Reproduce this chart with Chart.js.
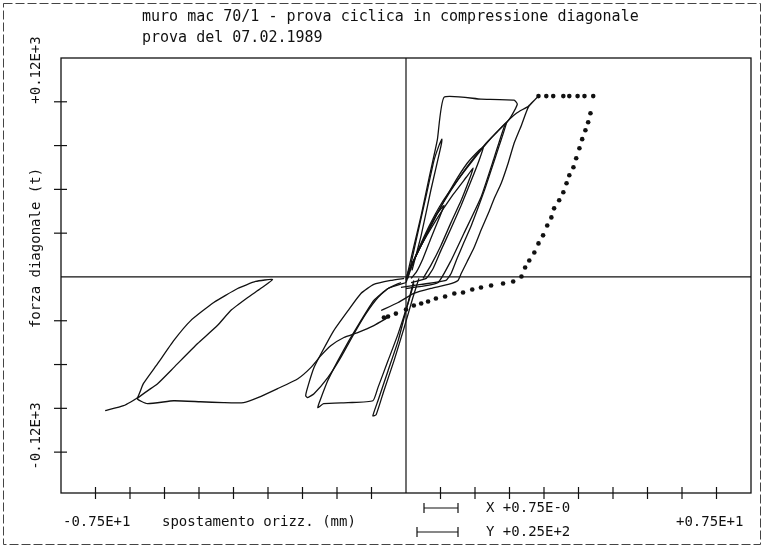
<!DOCTYPE html>
<html>
<head>
<meta charset="utf-8">
<script src="https://cdn.jsdelivr.net/npm/chart.js@4.4.1/dist/chart.umd.min.js"></script>
<style>
  html, body { margin: 0; padding: 0; background: #fff; }
  #wrap { width: 764px; height: 548px; }
</style>
</head>
<body>
<div id="wrap"><canvas id="chart" width="764" height="548"></canvas></div>
<script>
// Texts
const titleLines = ['muro mac 70/1 - prova ciclica in compressione diagonale', 'prova del 07.02.1989'];
const yAxisTitle = 'forza diagonale (t)';
const xAxisTitle = 'spostamento orizz. (mm)';
const yEndLabels = ['+0.12E+3', '-0.12E+3'];
const xEndLabels = ['-0.75E+1', '+0.75E+1'];
const scaleNotes = ['X +0.75E-0', 'Y +0.25E+2'];

// Tick positions (axis units)
const xTickValues = [-6.75, -6, -5.25, -4.5, -3.75, -3, -2.25, -1.5, -0.75, 0.75, 1.5, 2.25, 3, 3.75, 4.5, 5.25, 6, 6.75];
const yTickValues = [-120, -90, -60, -30, 30, 60, 90, 120];

// Big loop on the negative side with the long path at about -85 t
const leftLoopX = [-0.39, -0.70, -1.05, -1.35, -1.63, -1.85, -2.07, -2.35, -2.79, -3.22, -3.53, -3.97, -4.47, -5.05, -5.62, -5.84,
  -5.40, -5.05, -4.53, -4.10, -3.81, -3.44, -3.16, -2.90,
  -3.27, -3.66, -4.18, -4.68, -5.05, -5.40, -5.71, -5.84, -6.14, -6.54];
const leftLoopY = [-27.8, -33.3, -38.1, -41.5, -47.0, -53.9, -62.1, -69.7, -76.5, -82.7, -86.1, -86.1, -85.5, -84.8, -86.8, -83.4,
  -73.1, -62.1, -45.6, -33.3, -23.0, -14.1, -7.9, -1.7,
  -3.1, -7.9, -17.5, -29.9, -43.6, -59.4, -73.1, -82.7, -88.2, -91.6];

// Small negative loops near the origin
const negLoop1X = [-0.04, -0.33, -0.70, -0.98, -1.26, -1.57, -1.81, -2.00, -2.14, -2.18, -2.14, -2.00, -1.70, -1.42, -1.13, -0.87, -0.61, -0.39, -0.11];
const negLoop1Y = [-1.0, -2.4, -5.1, -11.3, -23.0, -36.7, -50.4, -62.1, -75.8, -81.3, -82.7, -80.0, -69.0, -55.3, -38.8, -25.1, -14.1, -7.9, -3.8];
const negLoop2X = [0, -0.39, -0.70, -0.98, -1.24, -1.48, -1.70, -1.87, -1.92, -1.79, -1.26, -0.72, -0.61, -0.39, -0.17, 0.04, 0.17];
const negLoop2Y = [-3.8, -7.9, -16.1, -29.9, -43.6, -57.3, -71.0, -84.8, -89.6, -86.8, -86.1, -84.8, -75.8, -57.3, -38.8, -18.2, -2.4];
const negLoop3X = [0.17, 0, -0.17, -0.39, -0.61, -0.72, -0.65, -0.48, -0.26, -0.04, 0.15, 0.28];
const negLoop3Y = [-4.5, -23.0, -43.6, -64.2, -84.8, -95.1, -94.4, -77.9, -57.3, -34.7, -14.1, -1.0];

// Positive loops
const rectLoopX = [0, 0.15, 0.33, 0.50, 0.68, 0.83, 1.63, 2.35, 2.42, 2.29, 2.14, 1.92, 1.63, 1.26, 0.98, 0.70, 0.33, 0];
const rectLoopY = [-2.4, 18.2, 42.2, 67.6, 93.7, 123.2, 121.8, 121.1, 118.4, 110.2, 103.3, 82.0, 54.6, 29.9, 11.3, -3.8, -6.5, -7.9];
const spikeLoopX = [0.04, 0.22, 0.44, 0.61, 0.72, 0.78, 0.76, 0.54, 0.33, 0.13];
const spikeLoopY = [-1.0, 25.1, 55.9, 80.0, 90.3, 94.4, 89.6, 59.4, 28.5, 4.5];
const peakLoopX = [0, 0.11, 0.28, 0.50, 0.76, 1.09, 1.42, 1.79, 2.14, 2.40, 2.66, 2.79, 2.88,
  2.66, 2.51, 2.35, 2.22, 2.07, 1.92, 1.79, 1.63, 1.48, 1.33, 1.20, 1.13, 0.92, 0.54, 0.17, -0.17, -0.54];
const peakLoopY = [-3.8, 5.8, 19.6, 34.7, 49.8, 64.9, 78.6, 93.0, 104.7, 112.2, 117.0, 121.1, 123.9,
  116.3, 104.0, 91.6, 77.9, 64.2, 53.9, 43.6, 32.0, 20.2, 10.6, 2.4, -2.4, -5.1, -7.9, -11.3, -17.5, -23.0];
const loop2X = [0, 0.15, 0.37, 0.65, 0.98, 1.35, 1.74, 2.00, 2.18, 2.03, 1.85, 1.72, 1.57, 1.42, 1.26, 1.11, 0.98, 0.87, 0.33, -0.11];
const loop2Y = [-1.0, 9.9, 25.1, 42.2, 59.4, 76.5, 91.6, 99.9, 105.4, 90.3, 73.1, 60.7, 47.7, 35.3, 23.7, 12.7, 2.4, -2.4, -5.1, -7.2];
const loop3X = [0.04, 0.22, 0.44, 0.72, 1.02, 1.33, 1.59, 1.68, 1.59, 1.42, 1.20, 0.98, 0.76, 0.59, 0.44, 0.11];
const loop3Y = [3.1, 14.8, 28.5, 45.7, 62.8, 77.9, 86.8, 88.9, 80.0, 66.2, 49.1, 33.3, 18.2, 5.8, -1.0, -3.8];
const loop4X = [0.07, 0.33, 0.65, 0.98, 1.31, 1.46, 1.37, 1.20, 0.98, 0.76, 0.54, 0.37];
const loop4Y = [4.5, 21.6, 38.8, 54.6, 68.3, 74.5, 66.2, 52.5, 37.4, 21.6, 7.9, -1.0];
const loop5X = [0.02, 0.22, 0.44, 0.65, 0.83, 0.72, 0.54, 0.37, 0.22, 0.11];
const loop5Y = [1.0, 14.8, 28.5, 42.2, 49.1, 40.2, 26.4, 12.7, 3.1, -1.0];

// Dotted final cycle
const dotX = [-0.48, -0.39, -0.22, 0, 0.17, 0.33, 0.48, 0.65, 0.85, 1.05, 1.24, 1.44, 1.63, 1.85, 2.11, 2.33, 2.51,
  2.59, 2.68, 2.79, 2.88, 2.98, 3.07, 3.16, 3.22, 3.33, 3.42, 3.49, 3.55, 3.64, 3.70, 3.77, 3.83, 3.90, 3.96, 4.01,
  4.07, 3.88, 3.73, 3.55, 3.42, 3.20, 3.05, 2.88];
const dotY = [-27.8, -27.1, -25.1, -22.3, -19.6, -18.2, -16.8, -14.8, -13.4, -11.3, -10.6, -8.6, -7.2, -5.8, -4.5, -3.1, 0.3,
  6.5, 11.3, 16.8, 23.0, 28.5, 35.3, 40.8, 47.0, 52.5, 58.0, 64.2, 69.7, 75.2, 81.3, 88.2, 94.4, 100.5, 106.0, 112.2,
  123.9, 123.9, 123.9, 123.9, 123.9, 123.9, 123.9, 123.9];

function pts(xs, ys) {
    return xs.map((x, i) => ({ x: x, y: ys[i] }));
}

function curve(xs, ys) {
    return {
        data: pts(xs, ys),
        showLine: true,
        borderColor: '#111',
        borderWidth: 1.3,
        pointRadius: 0,
        tension: 0.15,
        fill: false
    };
}

const MONO = '"DejaVu Sans Mono", "Liberation Mono", monospace';

// Frame, zero lines, ticks and all the plotter texts
const plotterFrame = {
    id: 'plotterFrame',
    beforeDatasetsDraw(chart) {
        const { ctx, chartArea: a, scales: { x, y } } = chart;
        const line = (x1, y1, x2, y2) => { ctx.beginPath(); ctx.moveTo(x1, y1); ctx.lineTo(x2, y2); ctx.stroke(); };
        ctx.save();
        // outer sheet border
        ctx.strokeStyle = '#444';
        ctx.lineWidth = 1;
        ctx.setLineDash([9, 3]);
        ctx.strokeRect(3.5, 3.5, 757, 541);
        ctx.setLineDash([]);
        // plot frame
        ctx.strokeStyle = '#111';
        ctx.lineWidth = 1.3;
        ctx.strokeRect(a.left, a.top, a.right - a.left, a.bottom - a.top);
        // zero lines
        const x0 = x.getPixelForValue(0), y0 = y.getPixelForValue(0);
        ctx.lineWidth = 1.2;
        line(x0, a.top, x0, a.bottom);
        line(a.left, y0, a.right, y0);
        // ticks
        yTickValues.forEach(v => {
            const py = y.getPixelForValue(v);
            line(a.left - 7, py, a.left + 6, py);
        });
        xTickValues.forEach(v => {
            const px = x.getPixelForValue(v);
            line(px, a.bottom - 6, px, a.bottom + 6);
        });
        ctx.restore();
    },
    afterDraw(chart) {
        const { ctx, chartArea: a } = chart;
        ctx.save();
        ctx.fillStyle = '#111';
        ctx.textBaseline = 'middle';
        // title
        ctx.font = '15px ' + MONO;
        ctx.textAlign = 'left';
        ctx.fillText(titleLines[0], 142, 17);
        ctx.fillText(titleLines[1], 142, 38);
        // rotated y texts
        ctx.font = '14px ' + MONO;
        ctx.textAlign = 'center';
        [[yEndLabels[0], 70], [yAxisTitle, 248], [yEndLabels[1], 436]].forEach(([t, cy]) => {
            ctx.save();
            ctx.translate(36, cy);
            ctx.rotate(-Math.PI / 2);
            ctx.fillText(t, 0, 0);
            ctx.restore();
        });
        // bottom texts
        ctx.textAlign = 'left';
        ctx.fillText(xEndLabels[0], 63, 522);
        ctx.fillText(xAxisTitle, 162, 522);
        ctx.fillText(xEndLabels[1], 676, 522);
        ctx.fillText(scaleNotes[0], 486, 508);
        ctx.fillText(scaleNotes[1], 486, 532);
        // scale bars
        ctx.strokeStyle = '#111';
        ctx.lineWidth = 1.2;
        const bar = (x1, x2, cy) => {
            ctx.beginPath();
            ctx.moveTo(x1, cy); ctx.lineTo(x2, cy);
            ctx.moveTo(x1, cy - 5); ctx.lineTo(x1, cy + 5);
            ctx.moveTo(x2, cy - 5); ctx.lineTo(x2, cy + 5);
            ctx.stroke();
        };
        bar(424, 458, 508);
        bar(417, 458, 532);
        ctx.restore();
    }
};

document.addEventListener('DOMContentLoaded', function() {
    const ctx = document.getElementById('chart').getContext('2d');
    new Chart(ctx, {
        type: 'scatter',
        data: {
            datasets: [
                curve(leftLoopX, leftLoopY),
                curve(negLoop1X, negLoop1Y),
                curve(negLoop2X, negLoop2Y),
                curve(negLoop3X, negLoop3Y),
                curve(rectLoopX, rectLoopY),
                curve(spikeLoopX, spikeLoopY),
                curve(peakLoopX, peakLoopY),
                curve(loop2X, loop2Y),
                curve(loop3X, loop3Y),
                curve(loop4X, loop4Y),
                curve(loop5X, loop5Y),
                {
                    data: pts(dotX, dotY),
                    showLine: false,
                    pointRadius: 2.3,
                    pointBorderWidth: 0,
                    backgroundColor: '#111',
                    borderColor: '#111'
                }
            ]
        },
        options: {
            responsive: false,
            animation: false,
            layout: { padding: { left: 61, top: 58, right: 13, bottom: 55 } },
            plugins: { legend: { display: false }, tooltip: { enabled: false } },
            scales: {
                x: { type: 'linear', min: -7.5, max: 7.5, display: false },
                y: { type: 'linear', min: -148, max: 150, display: false }
            }
        },
        plugins: [plotterFrame]
    });
});
</script>
</body>
</html>
